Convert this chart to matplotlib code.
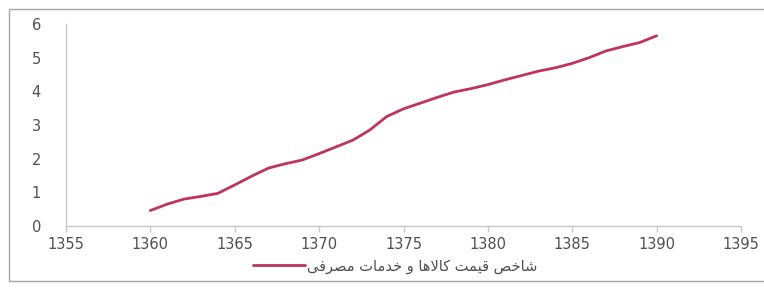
import matplotlib
matplotlib.use("Agg")
import matplotlib.pyplot as plt
from matplotlib.patches import Rectangle

plt.rcParams["font.family"] = ["DejaVu Sans"]

years = list(range(1360, 1391))
values = [0.46, 0.65, 0.80, 0.88, 0.97, 1.22, 1.48, 1.72, 1.85, 1.96,
          2.15, 2.35, 2.55, 2.85, 3.25, 3.48, 3.65, 3.82, 3.98, 4.08,
          4.20, 4.34, 4.47, 4.60, 4.70, 4.83, 5.00, 5.20, 5.33, 5.45, 5.65]
x_ticks = [1355, 1360, 1365, 1370, 1375, 1380, 1385, 1390, 1395]
y_ticks = [0, 1, 2, 3, 4, 5, 6]
series_label = "شاخص قیمت کالاها و خدمات مصرفی"

# minimal Arabic/Persian shaper (isolated, final, initial, medial)
FORMS = {
    'ا': ('\uFE8D', '\uFE8E', None, None),
    'ش': ('\uFEB5', '\uFEB6', '\uFEB7', '\uFEB8'),
    'خ': ('\uFEA5', '\uFEA6', '\uFEA7', '\uFEA8'),
    'ص': ('\uFEB9', '\uFEBA', '\uFEBB', '\uFEBC'),
    'ق': ('\uFED5', '\uFED6', '\uFED7', '\uFED8'),
    'ی': ('\uFBFC', '\uFBFD', '\uFBFE', '\uFBFF'),
    'م': ('\uFEE1', '\uFEE2', '\uFEE3', '\uFEE4'),
    'ت': ('\uFE95', '\uFE96', '\uFE97', '\uFE98'),
    'ک': ('\uFB8E', '\uFB8F', '\uFB90', '\uFB91'),
    'ل': ('\uFEDD', '\uFEDE', '\uFEDF', '\uFEE0'),
    'ه': ('\uFEE9', '\uFEEA', '\uFEEB', '\uFEEC'),
    'و': ('\uFEED', '\uFEEE', None, None),
    'د': ('\uFEA9', '\uFEAA', None, None),
    'ر': ('\uFEAD', '\uFEAE', None, None),
    'ف': ('\uFED1', '\uFED2', '\uFED3', '\uFED4'),
}


def shape(text):
    chars = list(text)
    out = []
    i = 0
    n = len(chars)

    def joins_next(c):
        return c in FORMS and FORMS[c][2] is not None

    while i < n:
        c = chars[i]
        if c not in FORMS:
            out.append(c)
            i += 1
            continue
        prev = chars[i - 1] if i > 0 else None
        prev_joins = prev is not None and joins_next(prev)
        if c == 'ل' and i + 1 < n and chars[i + 1] == 'ا':
            out.append('\uFEFC' if prev_joins else '\uFEFB')
            i += 2
            continue
        nxt = chars[i + 1] if i + 1 < n else None
        next_joins = nxt is not None and nxt in FORMS and joins_next(c)
        iso, fin, ini, med = FORMS[c]
        if prev_joins and next_joins:
            out.append(med)
        elif prev_joins:
            out.append(fin)
        elif next_joins:
            out.append(ini)
        else:
            out.append(iso)
        i += 1
    return ''.join(reversed(out))


W, H = 764, 290
fig = plt.figure(figsize=(W / 100, H / 100), dpi=100)
fig.patch.set_facecolor("white")

fig.add_artist(Rectangle((9 / W, 1 - 281 / H), 1.2, (281 - 9) / H,
                         transform=fig.transFigure, fill=False,
                         edgecolor="#a6a6a6", linewidth=1.0))

ax = fig.add_axes([66 / W, 1 - 226 / H, (741 - 66) / W, (226 - 24) / H])
ax.plot(years, values, color="#C0335A", linewidth=2.0, label=shape(series_label),
        solid_capstyle="round")
ax.set_xlim(1355, 1395)
ax.set_ylim(0, 6)
ax.set_xticks(x_ticks)
ax.set_yticks(y_ticks)
for s in ["top", "right"]:
    ax.spines[s].set_visible(False)
for s in ["left", "bottom"]:
    ax.spines[s].set_color("#c8c8c8")
    ax.spines[s].set_linewidth(1.0)
ax.tick_params(axis="x", length=4, width=1, color="#c8c8c8", pad=4,
               labelsize=10.5, labelcolor="#505050")
ax.tick_params(axis="y", length=0, pad=18, labelsize=10.5, labelcolor="#505050")

leg = ax.legend(loc="center", bbox_to_anchor=(395 / W, 1 - 266 / H),
                bbox_transform=fig.transFigure, frameon=False,
                handlelength=3.6, handletextpad=0.1,
                prop={"family": "DejaVu Sans", "size": 10.5})
for t in leg.get_texts():
    t.set_color("#505050")

fig.savefig("out.png", dpi=100)
